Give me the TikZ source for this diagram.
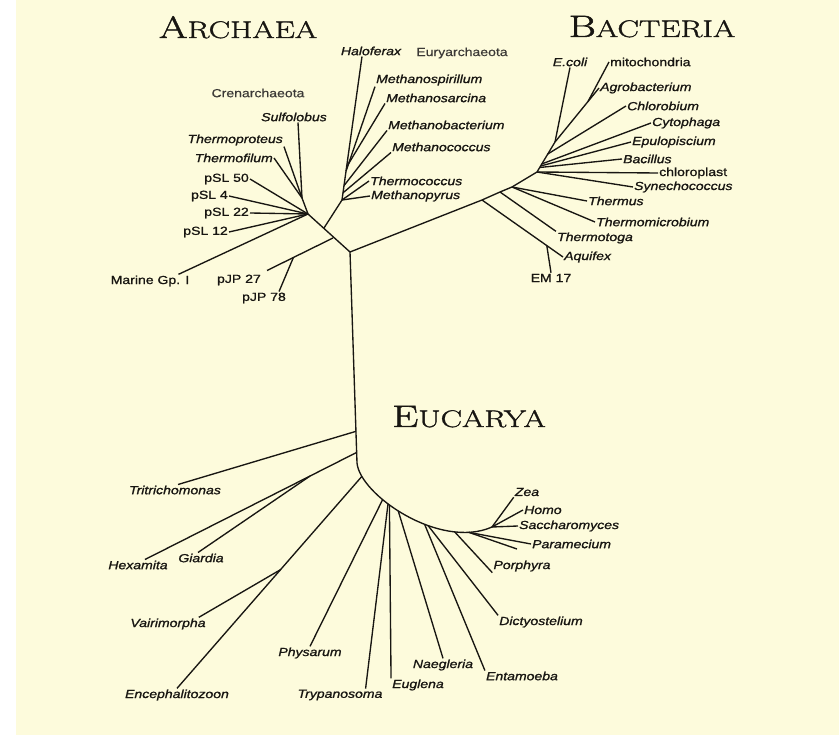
\documentclass[tikz,border=0pt]{standalone}
\usepackage{fontspec}
\newfontfamily\labfont[FakeStretch=1.2, FakeBold=1.2]{Liberation Sans}
\newfontfamily\grpfont[FakeStretch=1.2, FakeBold=0.4]{Liberation Sans}
\newfontfamily\titlefont[FakeStretch=1.34, FakeBold=1.4]{Latin Modern Roman}
\newcommand\capsname[2]{{\fontsize{31}{34}\selectfont#1}{\fontsize{24}{34}\selectfont#2}}
\usetikzlibrary{calc}
\definecolor{paper}{RGB}{253,251,220}
\definecolor{ink}{RGB}{24,22,18}

\begin{document}
\begin{tikzpicture}[x=1pt, y=-1pt,
  br/.style={ink, line width=1.35pt},
  lab/.style={inner sep=1pt, text=ink, font=\labfont\fontsize{11.7}{12}\selectfont\itshape},
  labr/.style={lab, font=\labfont\fontsize{11.7}{12}\selectfont},
  grp/.style={lab, text=ink!85, font=\grpfont\fontsize{11.7}{12}\selectfont},
  title/.style={inner sep=0pt, anchor=base, text=ink, font=\titlefont}]
  \fill[white] (0,0) rectangle (839,735);
  \fill[paper] (16,0) rectangle (839,735);
  \useasboundingbox (0,0) rectangle (839,735);

  \node[title] (archaea) at (238,38) {\capsname{A}{RCHAEA}};
  \node[title] (bacteria) at (652,37) {\capsname{B}{ACTERIA}};
  \node[title] (eucarya) at (469,427) {\capsname{E}{UCARYA}};

  % archaea
  \coordinate (R) at (350,252);
  \coordinate (K) at (333,238);
  \coordinate (E0) at (324,228);
  \coordinate (C) at (308,214);
  \coordinate (C1) at (302,198);
  \coordinate (E1) at (342,200);
  \draw[br] (R) -- (C) -- (C1);
  \draw[br] (E0) -- (E1);

  \node[grp] (cren) at (258,93) {Crenarchaeota};
  \node[lab] (sulfolobus) at (294,117) {Sulfolobus};
  \node[lab, anchor=east] (thermoproteus) at (284,140) {Thermoproteus};
  \node[lab, anchor=east] (thermofilum) at (274,158) {Thermofilum};
  \node[labr, anchor=east] (psl50) at (250,179) {pSL 50};
  \node[labr, anchor=east] (psl4) at (229,196) {pSL 4};
  \node[labr, anchor=east] (psl22) at (250,213) {pSL 22};
  \node[labr, anchor=east] (psl12) at (229,232) {pSL 12};
  \node[labr] (marine) at (150,281) {Marine Gp. I};
  \node[labr, anchor=east] (pjp27) at (262,280) {pJP 27};
  \node[labr] (pjp78) at (264,298) {pJP 78};

  \draw[br] (C1) -- ([xshift=4pt]sulfolobus.south);
  \draw[br] (C1) -- (thermoproteus.south east);
  \draw[br] (C1) -- (thermofilum.east);
  \foreach \n in {psl50,psl4,psl22,psl12}
    \draw[br] (C) -- (\n.east);
  \draw[br] (C) -- ([xshift=-12pt]marine.north east);
  \coordinate (J) at ([shift={(5pt,3pt)}]pjp27.north east);
  \draw[br] (K) -- (J);
  \coordinate (K2) at ($(K)!0.6!(J)$);
  \draw[br] (K2) -- ([xshift=-8pt]pjp78.north east);

  \node[grp] (eury) at (462,53) {Euryarchaeota};
  \node[lab] (haloferax) at (371,51) {Haloferax};
  \node[lab, anchor=west] (mspir) at (375,80) {Methanospirillum};
  \node[lab, anchor=west] (msarc) at (385,98) {Methanosarcina};
  \node[lab, anchor=west] (mbact) at (387,125) {Methanobacterium};
  \node[lab, anchor=west] (mcocc) at (391,147) {Methanococcus};
  \node[lab, anchor=west] (tcocc) at (369,181) {Thermococcus};
  \node[lab, anchor=west] (mpyr) at (370,196) {Methanopyrus};

  \coordinate (H) at ([xshift=-9pt]haloferax.south);
  \draw[br] (E1) -- (H);
  \draw[br] ($(E1)!0.2!(H)$) -- (mspir.south west);
  \draw[br] ($(E1)!0.23!(H)$) -- (msarc.south west);
  \draw[br] ($(E1)!0.1!(H)$) -- (mbact.south west);
  \draw[br] ($(E1)!0.05!(H)$) -- (mcocc.south west);
  \draw[br] (E1) -- (tcocc.west);
  \draw[br] (E1) -- (mpyr.west);

  % bacteria
  \coordinate (Ba) at (482,200);
  \coordinate (Bt) at (500,192);
  \coordinate (Bm) at (512,187);
  \coordinate (B0) at (537,172);
  \coordinate (B1) at (555,142);
  \draw[br] (R) -- (Ba) -- (Bt) -- (Bm) -- (B0) -- (B1);

  \node[lab, anchor=west] (aquifex) at (563,257) {Aquifex};
  \node[labr] (em17) at (551,278) {EM 17};
  \node[lab] (thermotoga) at (595,238) {Thermotoga};
  \node[lab, anchor=west] (thermus) at (587,201) {Thermus};
  \node[lab, anchor=west] (tmicro) at (595,222) {Thermomicrobium};
  \node[lab, anchor=west] (synecho) at (633,187) {Synechococcus};
  \node[labr, anchor=west] (chloroplast) at (658,173) {chloroplast};
  \node[lab, anchor=west] (bacillus) at (622,159) {Bacillus};
  \node[lab, anchor=west] (epulo) at (631,142) {Epulopiscium};
  \node[lab, anchor=west] (cytophaga) at (651,123) {Cytophaga};
  \node[lab, anchor=west] (chlorobium) at (626,106) {Chlorobium};
  \node[lab, anchor=west] (agro) at (599,88) {Agrobacterium};
  \node[labr, anchor=west] (mito) at (609,62) {mitochondria};
  \node[lab] (ecoli) at (570,62) {E.coli};

  \draw[br] (Ba) -- (aquifex.west);
  \draw[br] ($(Ba)!0.8!(aquifex.west)$) -- (em17.north);
  \draw[br] (Bt) -- (thermotoga.north west);
  \draw[br] (Bm) -- (thermus.west);
  \draw[br] (Bm) -- (tmicro.west);
  \draw[br] (B0) -- (synecho.west);
  \draw[br] (B0) -- (chloroplast.west);
  \draw[br] ($(B0)!0.15!(B1)$) -- (bacillus.west);
  \draw[br] ($(B0)!0.2!(B1)$) -- (epulo.west);
  \draw[br] ($(B0)!0.27!(B1)$) -- (cytophaga.west);
  \draw[br] ($(B0)!0.6!(B1)$) -- (chlorobium.west);
  \draw[br] (B1) -- (agro.west);
  \draw[br] ($(B1)!0.75!(agro.west)$) -- (mito.west);
  \draw[br] (B1) -- (ecoli.south);

  % eucarya
  \coordinate (V) at (357,463);
  \coordinate (Z) at (492,527);
  \draw[br] (R) -- (V) coordinate[pos=0.85] (Et) coordinate[pos=0.95] (Eh)
    .. controls (360,495) and (440,550) .. (Z)
    coordinate[pos=0.13] (Ee) coordinate[pos=0.34] (Ep) coordinate[pos=0.38] (Ey)
    coordinate[pos=0.39] (Eu) coordinate[pos=0.45] (En) coordinate[pos=0.61] (Ea)
    coordinate[pos=0.63] (Ed) coordinate[pos=0.78] (Eo) coordinate[pos=0.86] (Em);

  \node[lab] (tritri) at (175,490) {Tritrichomonas};
  \node[lab] (hexamita) at (138,565) {Hexamita};
  \node[lab] (giardia) at (201,558) {Giardia};
  \node[lab] (vairi) at (168,624) {Vairimorpha};
  \node[lab] (enceph) at (177,695) {Encephalitozoon};
  \node[lab] (physarum) at (310,653) {Physarum};
  \node[lab] (tryp) at (340,695) {Trypanosoma};
  \node[lab] (euglena) at (418,685) {Euglena};
  \node[lab] (naegleria) at (443,665) {Naegleria};
  \node[lab] (entamoeba) at (522,676) {Entamoeba};
  \node[lab] (dictyo) at (541,622) {Dictyostelium};
  \node[lab] (porphyra) at (522,566) {Porphyra};
  \node[lab, anchor=west] (paramecium) at (531,544) {Paramecium};
  \node[lab, anchor=west] (sacch) at (518,526) {Saccharomyces};
  \node[lab, anchor=west] (homo) at (523,510) {Homo};
  \node[lab] (zea) at (527,492) {Zea};

  \draw[br] (Et) -- ([xshift=3pt]tritri.north);
  \coordinate (X) at ([xshift=7pt]hexamita.north);
  \draw[br] (Eh) -- (X);
  \draw[br] ($(Eh)!0.22!(X)$) -- ([xshift=-3pt]giardia.north);
  \draw[br] (Ee) -- (enceph.north);
  \draw[br] ($(Ee)!0.44!(enceph.north)$) -- ([xshift=-8pt]vairi.north east);
  \draw[br] (Ep) -- (physarum.north);
  \draw[br] (Ey) -- ([xshift=-18pt]tryp.north east);
  \draw[br] (Eu) -- (euglena.north west);
  \draw[br] (En) -- (naegleria.north);
  \draw[br] (Ea) -- (entamoeba.north west);
  \draw[br] (Ed) -- (dictyo.north west);
  \draw[br] (Eo) -- (porphyra.south west);
  \draw[br] (Em) -- (paramecium.west);
  \coordinate (Ex) at (517,549);
  \draw[br] (Em) -- (Ex);
  \draw[br] (Z) -- (sacch.west);
  \draw[br] (Z) -- (homo.west);
  \draw[br] (Z) -- (zea.south west);
\end{tikzpicture}
\end{document}
